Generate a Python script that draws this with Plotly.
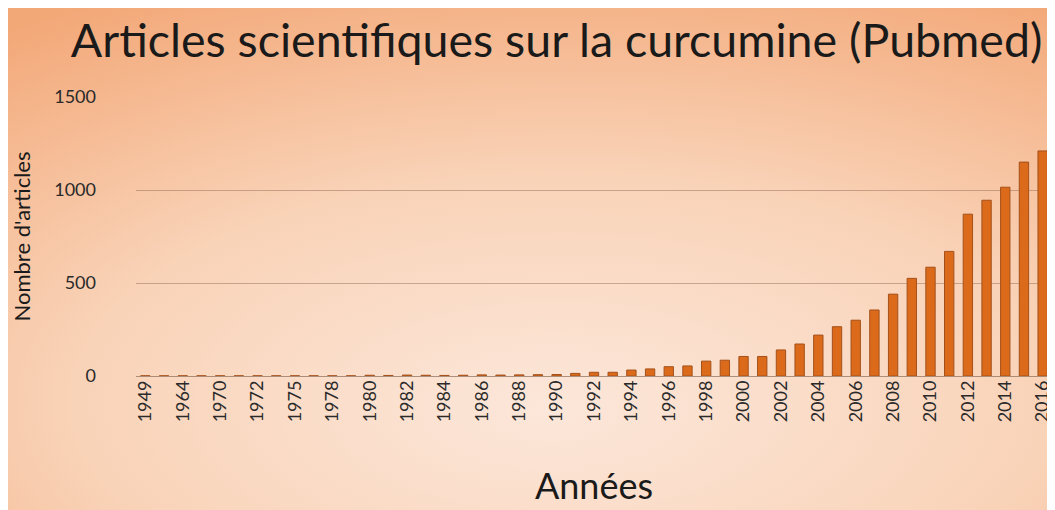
import plotly.graph_objects as go
import base64

years = ["1949", "1961", "1964", "1968", "1970", "1971", "1972", "1974", "1975", "1976",
         "1978", "1979"] + [str(y) for y in range(1980, 2017)]
articles = [1, 1, 1, 1, 1, 1, 1, 1, 1, 1, 1, 1,
            4, 3, 5, 4, 3, 4, 6, 5, 6, 7, 8,
            14, 20, 20, 32, 38, 50, 54, 80, 85, 105, 105, 140, 172, 220,
            265, 300, 355, 440, 525, 585, 670, 870, 945, 1015, 1150, 1210]
tick_labels = years[::2]

svg = """<svg xmlns='http://www.w3.org/2000/svg' width='1055' height='510'>
<defs><radialGradient id='g' cx='0.55' cy='0.75' r='0.85' fx='0.52' fy='0.78'>
<stop offset='0' stop-color='#fce7da'/><stop offset='0.5' stop-color='#f9d3b8'/>
<stop offset='1' stop-color='#f3a878'/></radialGradient></defs>
<rect width='1055' height='510' fill='url(#g)'/></svg>"""
bg = "data:image/svg+xml;base64," + base64.b64encode(svg.encode()).decode()

fig = go.Figure(go.Bar(
    x=years, y=articles,
    marker=dict(color="#db6b1b", line=dict(color="#a4501a", width=1)),
))

fig.update_layout(
    width=1047, height=502,
    margin=dict(l=128, r=3, t=89, b=134),
    paper_bgcolor="#f8cdb0",
    plot_bgcolor="rgba(0,0,0,0)",
    bargap=0.5,
    showlegend=False,
    title=dict(text="Articles scientifiques sur la curcumine (Pubmed)",
               x=0.524, xanchor="center", y=0.935, yanchor="middle",
               font=dict(family="Lato", size=46.5, color="#1a1a1a")),
    font=dict(family="Lato", color="#2a2a2a"),
    images=[dict(source=bg, xref="paper", yref="paper", x=-0.2, y=1.36,
                 sizex=1.25, sizey=1.9, sizing="stretch", layer="below",
                 xanchor="left", yanchor="top")],
)
fig.update_xaxes(
    type="category", tickmode="array", tickvals=tick_labels, ticktext=tick_labels,
    tickangle=-90, tickfont=dict(size=18, color="#2a2a2a"),
    showgrid=False, showline=False, ticks="",
    title=dict(text="Années", font=dict(size=36, color="#1a1a1a"), standoff=52),
)
fig.update_yaxes(
    range=[0, 1500], tickvals=[0, 500, 1000, 1500],
    tickfont=dict(size=18, color="#2a2a2a"), ticklabelstandoff=39,
    gridcolor="rgba(140,100,80,0.45)", gridwidth=1,
    zeroline=True, zerolinecolor="rgba(120,90,70,0.6)", zerolinewidth=1,
    ticks="", ticklen=0,
    title=dict(text="Nombre d'articles", font=dict(size=22, color="#1a1a1a"), standoff=18),
)

fig.write_html("out.html")
